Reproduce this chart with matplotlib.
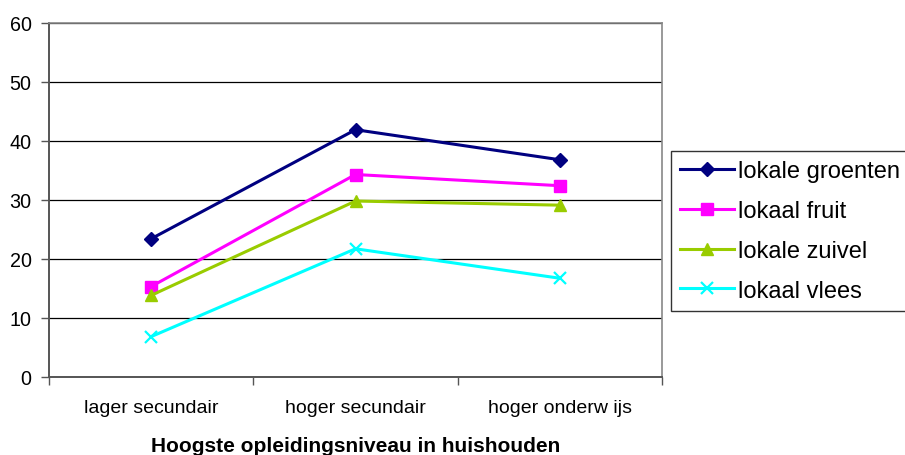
import matplotlib.pyplot as plt
import numpy as np

plt.rcParams['font.family'] = ['Liberation Sans', 'DejaVu Sans']

categories = ['lager secundair', 'hoger secundair', 'hoger onderw ijs']
groenten = [23.4, 41.9, 36.8]
fruit = [15.3, 34.3, 32.4]
zuivel = [13.8, 29.8, 29.1]
vlees = [6.8, 21.7, 16.7]

W, H = 905, 456
fig = plt.figure(figsize=(W / 100, H / 100), dpi=100)
ax = fig.add_axes([49 / W, 1 - 377.7 / H, 613 / W, 353.7 / H])

x = np.arange(len(categories))
ax.plot(x, groenten, color='#000080', lw=2.2, marker='D', ms=7, label='lokale groenten')
ax.plot(x, fruit, color='#FF00FF', lw=2.2, marker='s', ms=8, label='lokaal fruit')
ax.plot(x, zuivel, color='#99CC00', lw=2.2, marker='^', ms=9, label='lokale zuivel')
ax.plot(x, vlees, color='#00FFFF', lw=2.2, marker='x', ms=9, mew=1.6, label='lokaal vlees')

ax.set_xlim(-0.5, 2.5)
ax.set_ylim(0, 60)
ax.set_yticks(range(0, 61, 10))
ax.yaxis.grid(True, color='black', lw=0.9)
ax.set_axisbelow(True)

# category labels sit between boundary ticks
ax.set_xticks([-0.5, 0.5, 1.5, 2.5])
ax.set_xticklabels([])
ax.set_xticks(x, minor=True)
ax.set_xticklabels(categories, minor=True, fontsize=14)
ax.tick_params(axis='x', which='minor', length=0, pad=16)
ax.tick_params(axis='x', which='major', length=6, color='#555555', width=1)
ax.tick_params(axis='y', length=6, color='#555555', width=1, labelsize=14.2, pad=6.5)

for side in ['left', 'bottom']:
    ax.spines[side].set_color('#555555')
    ax.spines[side].set_linewidth(1.4)
for side in ['top', 'right']:
    ax.spines[side].set_color('#888888')
    ax.spines[side].set_linewidth(1.2)

ax.set_xlabel('Hoogste opleidingsniveau in huishouden', fontsize=15,
              fontweight='bold', va='center')
ax.xaxis.set_label_coords(0.5, (377.7 - 447) / 353.7)

leg = fig.legend(loc='upper left', bbox_to_anchor=(671 / W, 1 - 152 / H),
                 fontsize=17, frameon=True, fancybox=False, handlelength=2.25,
                 borderpad=0.4, labelspacing=0.75, handletextpad=0.2,
                 borderaxespad=0)
leg.get_frame().set_edgecolor('black')
leg.get_frame().set_linewidth(1.0)

fig.savefig('out.png', dpi=100)
